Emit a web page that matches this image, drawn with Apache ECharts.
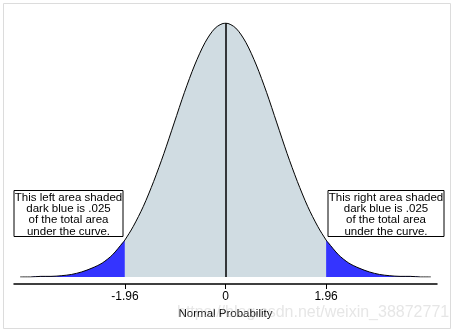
<!DOCTYPE html>
<html>
<head>
<meta charset="utf-8">
<script src="https://cdn.jsdelivr.net/npm/echarts@6/dist/echarts.min.js"></script>
<style>
  html, body { margin: 0; padding: 0; background: #fff; }
  #chart { width: 455px; height: 333px; }
</style>
</head>
<body>
<div id="chart"></div>
<script>
// Standard normal density, sampled along z
const zValues = [-4.0, -3.8, -3.6, -3.4, -3.2, -3.0, -2.8, -2.6, -2.4, -2.2, -2.0, -1.96,
  -1.8, -1.6, -1.4, -1.2, -1.0, -0.8, -0.6, -0.4, -0.2, 0.0,
  0.2, 0.4, 0.6, 0.8, 1.0, 1.2, 1.4, 1.6, 1.8, 1.96,
  2.0, 2.2, 2.4, 2.6, 2.8, 3.0, 3.2, 3.4, 3.6, 3.8, 4.0];
const density = [0.000, 0.000, 0.001, 0.001, 0.002, 0.004, 0.008, 0.014, 0.022, 0.035, 0.054, 0.058,
  0.079, 0.111, 0.150, 0.194, 0.242, 0.290, 0.333, 0.368, 0.391, 0.399,
  0.391, 0.368, 0.333, 0.290, 0.242, 0.194, 0.150, 0.111, 0.079, 0.058,
  0.054, 0.035, 0.022, 0.014, 0.008, 0.004, 0.002, 0.001, 0.001, 0.000, 0.000];
const criticalZ = 1.96;
const tickValues = [-1.96, 0, 1.96];
const tickLabels = ['-1.96', '0', '1.96'];
const leftNote = ['This left area shaded', 'dark blue is .025', 'of the total area', 'under the curve.'];
const rightNote = ['This right area shaded', 'dark blue is .025', 'of the total area', 'under the curve.'];
const peak = 0.399;

const points = zValues.map((z, i) => [z, density[i]]);
const leftTail = points.filter(p => p[0] <= -criticalZ);
const middle = points.filter(p => p[0] >= -criticalZ && p[0] <= criticalZ);
const rightTail = points.filter(p => p[0] >= criticalZ);

const FONT = '"Liberation Sans", Arial, sans-serif';
const chart = echarts.init(document.getElementById('chart'), null, { renderer: 'canvas' });

function areaSeries(data, color) {
  return {
    type: 'line', data, smooth: 0.3, showSymbol: false, silent: true,
    lineStyle: { width: 0, opacity: 0 },
    areaStyle: { color, opacity: 1 },
    z: 1
  };
}

function noteBox(x, w, lines) {
  return {
    type: 'group', left: x, top: 190,
    children: [
      { type: 'rect', shape: { x: 0, y: 0, width: w, height: 46 },
        style: { fill: '#fff', stroke: '#000', lineWidth: 1 } },
      { type: 'text', x: w / 2, y: 1.5,
        style: { text: lines.join('\n'), font: '11.5px ' + FONT,
                 fill: '#000', align: 'center', verticalAlign: 'top', lineHeight: 11.3 } }
    ]
  };
}

chart.setOption({
  animation: false,
  backgroundColor: '#fff',
  grid: { left: 14, right: 18, top: 23, bottom: 56 },
  xAxis: {
    type: 'value', min: -4.12, max: 4.12,
    offset: 7,
    splitLine: { show: false },
    axisLine: { show: true, onZero: false, lineStyle: { color: '#000', width: 1.5 } },
    axisTick: { show: true, length: 5, lineStyle: { color: '#000', width: 1 }, customValues: tickValues },
    axisLabel: {
      customValues: tickValues, margin: 7, color: '#000',
      fontFamily: FONT, fontSize: 12,
      formatter: v => tickLabels[tickValues.indexOf(v)] ?? ''
    },
    name: 'Normal Probability', nameLocation: 'middle', nameGap: 12,
    nameTextStyle: { color: '#000', fontFamily: FONT, fontSize: 11.5 }
  },
  yAxis: {
    type: 'value', min: 0, max: peak, show: false, splitLine: { show: false }
  },
  series: [
    areaSeries(leftTail, '#3434ff'),
    areaSeries(middle, '#d0dce2'),
    areaSeries(rightTail, '#3434ff'),
    {
      type: 'line', data: points, smooth: 0.3, showSymbol: false, silent: true,
      lineStyle: { color: '#000', width: 1 }, z: 3,
      markLine: {
        silent: true, symbol: 'none', label: { show: false },
        lineStyle: { color: '#000', width: 1.5, type: 'solid' },
        data: [[{ coord: [0, 0] }, { coord: [0, peak] }]]
      }
    }
  ],
  graphic: [
    { type: 'rect', shape: { x: 3.5, y: 3.5, width: 447, height: 325 },
      style: { fill: 'none', stroke: '#dcdcdc', lineWidth: 1 }, z: 0 },
    noteBox(13.5, 109, leftNote),
    noteBox(327.5, 116, rightNote),
    { type: 'text', left: 177, top: 305, z: 100,
      style: { text: 'https://blog.csdn.net/weixin_38872771', font: '16px ' + FONT,
               fill: 'rgba(200,200,200,0.45)' } }
  ]
});
</script>
</body>
</html>
